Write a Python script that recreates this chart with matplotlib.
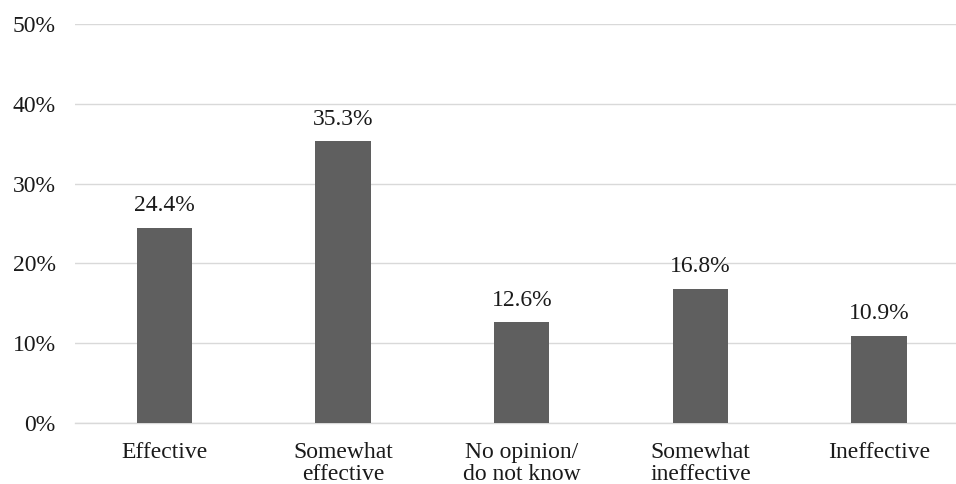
import numpy as np
import matplotlib.pyplot as plt

categories = ['Effective', 'Somewhat\neffective', 'No opinion/\ndo not know',
              'Somewhat\nineffective', 'Ineffective']
values = [24.4, 35.3, 12.6, 16.8, 10.9]
y_ticks = [0, 10, 20, 30, 40, 50]

plt.rcParams['font.family'] = ['Liberation Serif', 'DejaVu Serif']

fig = plt.figure(figsize=(9.56, 4.84), dpi=100)
ax = fig.add_axes([75 / 956, 1 - 423 / 484, 1 - 75 / 956, (423 - 24) / 484])

x = np.arange(len(categories))
bars = ax.bar(x, values, width=0.31, color='#5f5f5f', zorder=3)

for xi, v in zip(x, values):
    ax.annotate(f'{v:.1f}%', (xi, v), xytext=(0, 8.5), textcoords='offset points',
                ha='center', va='bottom', fontsize=17, color='#1a1a1a')

ax.set_xlim(-0.5, 4.43)
ax.set_ylim(0, 50)
ax.set_yticks(y_ticks)
ax.set_yticklabels([f'{t}%' for t in y_ticks], fontsize=17, color='#1a1a1a')
ax.set_xticks(x)
ax.set_xticklabels(categories, fontsize=17, color='#1a1a1a', linespacing=1.05)

ax.grid(axis='y', color='#d9d9d9', linewidth=1, zorder=0)
for side in ['top', 'right', 'left']:
    ax.spines[side].set_visible(False)
ax.spines['bottom'].set_color('#d9d9d9')
ax.spines['bottom'].set_linewidth(1)
ax.tick_params(axis='both', length=0)
ax.tick_params(axis='y', pad=14)
ax.tick_params(axis='x', pad=13.5)

fig.savefig('out.png', dpi=100)
